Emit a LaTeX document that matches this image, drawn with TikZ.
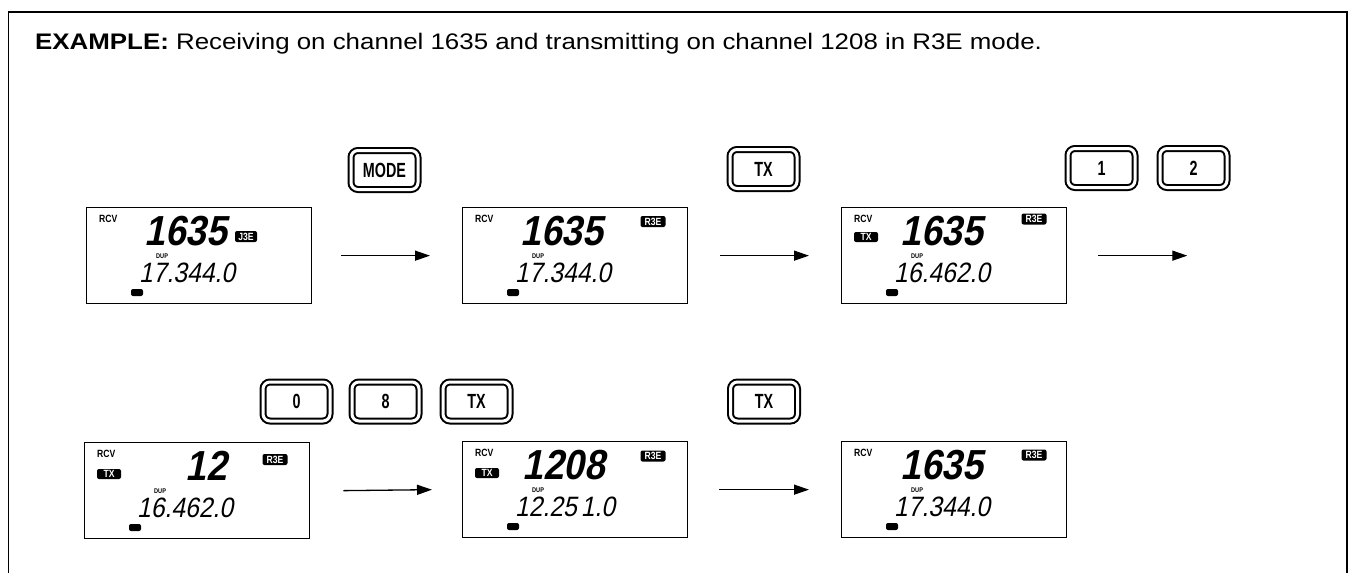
\documentclass[tikz,border=0pt]{standalone}
\usepackage{fontspec}
\setmainfont{Liberation Sans}
\newfontfamily\titlefont[FakeStretch=1.15]{Liberation Sans}
\newfontfamily\lcdfont[FakeSlant=0.2,FakeStretch=0.88]{Liberation Sans}
\newfontfamily\narrowfont[FakeStretch=0.82]{Liberation Sans}
\newfontfamily\keyfont[FakeStretch=0.70]{Liberation Sans}
\usetikzlibrary{arrows.meta}
\tikzset{
  panel/.style={draw, line width=1.3pt, minimum width=225pt, minimum height=96pt, anchor=north west, inner sep=0pt},
  keycap/.style={draw, line width=2pt, double, double distance=3pt, rounded corners=7pt,
     minimum width=67pt, minimum height=39pt, inner sep=0pt,
     font=\keyfont\bfseries\fontsize{20.5}{20.5}\selectfont},
  rcv/.style={anchor=base west, inner sep=0pt, font=\narrowfont\bfseries\fontsize{10.5}{10.5}\selectfont},
  dup/.style={anchor=base west, inner sep=0pt, font=\narrowfont\bfseries\fontsize{6.8}{6.8}\selectfont},
  big/.style={anchor=base east, inner sep=0pt, text height=30pt, text depth=0pt,
     font=\lcdfont\bfseries\fontsize{42}{42}\selectfont},
  lower/.style={anchor=base west, inner sep=0pt, text height=20pt, text depth=0pt,
     font=\lcdfont\fontsize{28}{28}\selectfont},
  badge/.style={fill=black, text=white, rounded corners=2pt, inner sep=0pt,
     minimum width=25pt, minimum height=11pt, font=\narrowfont\bfseries\fontsize{10.5}{10.5}\selectfont},
  txbadge/.style={badge, minimum width=24pt, minimum height=10pt},
  lcdbar/.style={fill=black, rounded corners=2pt, minimum width=12pt, minimum height=7pt, inner sep=0pt},
  arr/.style={line width=1.3pt, -{Triangle[length=15pt,width=10pt]}},
  frameline/.style={line width=1.5pt}
}
\newcommand\lcdpanel[3]{%
  \node[panel] (#1) at (#2) {};
  \node[rcv] (#1-rcv) at ([shift={(13,15.5)}]#1.north west) {RCV};
  \node[dup] (#1-dup) at ([shift={(70,51.5)}]#1.north west) {DUP};
  \node[lower] (#1-low) at ([shift={(53,75.5)}]#1.north west) {#3};
  \node[lcdbar] (#1-bar) at ([shift={(51,85.5)}]#1.north west) {};
}
\begin{document}
\begin{tikzpicture}[x=1pt,y=-1pt]
\useasboundingbox (0,0) rectangle (1350,573);
% frame
\coordinate (fbl) at (8.5,573);
\coordinate (ftl) at (8.5,12);
\coordinate (ftr) at (1347,12);
\coordinate (fbr) at (1347,573);
\draw[frameline] (fbl) -- (ftl) -- (ftr) -- (fbr);
% title
\node[anchor=base west, inner sep=0pt, font=\titlefont\fontsize{22.5}{22.5}\selectfont] (title) at (35,49.5)
  {\textbf{EXAMPLE:} Receiving on channel 1635 and transmitting on channel 1208 in R3E mode.};

% ---- row 1 ----
\lcdpanel{d1}{86,207}{17.344.0}
\node[big] (d1-big) at ([shift={(141,38.5)}]d1.north west) {1635};
\node[badge, minimum width=22pt] (d1-mode) at ([shift={(160,29.5)}]d1.north west) {J3E};

\lcdpanel{d2}{462,207}{17.344.0}
\node[big] (d2-big) at ([shift={(141,38.5)}]d2.north west) {1635};
\node[badge] (d2-mode) at ([shift={(191,14.5)}]d2.north west) {R3E};

\lcdpanel{d3}{841,207}{16.462.0}
\node[big] (d3-big) at ([shift={(142,38)}]d3.north west) {1635};
\node[badge] (d3-mode) at ([shift={(193,12)}]d3.north west) {R3E};
\node[txbadge] (d3-tx) at ([shift={(25,30)}]d3.north west) {TX};

\node[keycap] (k-mode) at (384.5,170) {MODE};
\node[keycap] (k-tx1) at (763.5,169) {TX};
\node[keycap] (k-1) at (1101.5,168) {1};
\node[keycap] (k-2) at (1193.5,168) {2};

\coordinate (r1end) at ([xshift=120pt]d3.east);
\draw[arr] ([xshift=29pt]d1.east) -- ([xshift=-32pt]d2.west);
\draw[arr] ([xshift=32pt]d2.east) -- ([xshift=-32pt]d3.west);
\draw[arr] ([xshift=31pt]d3.east) -- (r1end);

% ---- row 2 ----
\lcdpanel{d4}{84,442}{16.462.0}
\node[big] (d4-big) at ([shift={(143,38)}]d4.north west) {12};
\node[badge] (d4-mode) at ([shift={(191,17.5)}]d4.north west) {R3E};
\node[txbadge] (d4-tx) at ([shift={(25,32)}]d4.north west) {TX};

\lcdpanel{d5}{462,441}{12.25\kern4pt 1.0}
\node[big] (d5-big) at ([shift={(143,38.5)}]d5.north west) {1208};
\node[badge] (d5-mode) at ([shift={(191,15)}]d5.north west) {R3E};
\node[txbadge] (d5-tx) at ([shift={(25,32)}]d5.north west) {TX};

\lcdpanel{d6}{841,441}{17.344.0}
\node[big] (d6-big) at ([shift={(142,38.5)}]d6.north west) {1635};
\node[badge] (d6-mode) at ([shift={(193,14)}]d6.north west) {R3E};

\node[keycap] (k-0) at (296.5,401.5) {0};
\node[keycap] (k-8) at (385.5,401.5) {8};
\node[keycap] (k-tx2) at (476.5,401.5) {TX};
\node[keycap] (k-tx3) at (764,401.5) {TX};

\draw[arr] ([xshift=33pt]d4.east) -- ([xshift=-30pt]d5.west);
\draw[arr] ([xshift=31pt]d5.east) -- ([xshift=-32pt]d6.west);
\end{tikzpicture}
\end{document}
